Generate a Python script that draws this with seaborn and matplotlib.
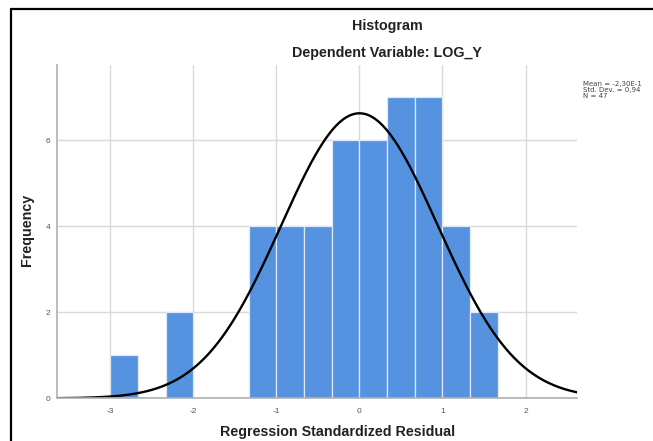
import numpy as np
import pandas as pd
import matplotlib
matplotlib.use("Agg")
import matplotlib.pyplot as plt
from matplotlib.lines import Line2D
import seaborn as sns

# histogram of regression standardized residuals (bins of width 1/3 starting at -3)
bin_start = -3.0
bin_width = 1 / 3
counts = [1, 0, 2, 0, 0, 4, 4, 4, 6, 6, 7, 7, 4, 2]
n_obs = 47
resid_mean = 0.0
resid_sd = 0.943
x_ticks = [-3, -2, -1, 0, 1, 2]
y_ticks = [0, 2, 4, 6]
stats_text = ["Mean = -2,30E-1", "Std. Dev. = 0,94", "N = 47"]

bin_edges = [bin_start + bin_width * i for i in range(len(counts) + 1)]
df = pd.DataFrame({
    'resid': [(bin_edges[i] + bin_edges[i + 1]) / 2 for i in range(len(counts))],
    'count': counts,
})

sns.set_style("white")
plt.rcParams['font.family'] = ['Liberation Sans', 'DejaVu Sans']
plt.rcParams['axes.unicode_minus'] = False

fig = plt.figure(figsize=(6.53, 4.41), dpi=100)
ax = fig.add_axes([0.0877, 0.0968, 0.7959, 0.7558])

ax.set_axisbelow(True)
ax.grid(True, color='#d9d9d9', linewidth=1.0)

sns.histplot(data=df, x='resid', weights='count', bins=bin_edges, ax=ax,
             color='#5592e0', alpha=1, edgecolor='#dfe8f4', linewidth=0.9)

# fitted normal curve
xs = np.linspace(-3.64, 2.62, 400)
pdf = np.exp(-0.5 * ((xs - resid_mean) / resid_sd) ** 2) / (resid_sd * np.sqrt(2 * np.pi))
sns.lineplot(x=xs, y=n_obs * bin_width * pdf, ax=ax, color='black', linewidth=1.7)

ax.set_xlim(-3.64, 2.62)
ax.set_ylim(0, 7.75)
ax.set_xticks(x_ticks)
ax.set_yticks(y_ticks)
ax.tick_params(axis='both', length=0, labelsize=6, labelcolor='#555555', pad=5)
ax.tick_params(axis='x', pad=7)
ax.set_xlabel('')
ax.set_ylabel('')
for side in ['top', 'right']:
    ax.spines[side].set_visible(False)
for side in ['left', 'bottom']:
    ax.spines[side].set_color('#b0b0b0')
    ax.spines[side].set_linewidth(1.2)

fig.text(0.5926, 0.9417, 'Histogram', ha='center', va='center',
         fontsize=10.3, fontweight='bold', color='#222222')
fig.text(0.5926, 0.8805, 'Dependent Variable: LOG_Y', ha='center', va='center',
         fontsize=10.3, fontweight='bold', color='#222222')
fig.text(0.5176, 0.0204, 'Regression Standardized Residual', ha='center', va='center',
         fontsize=10.3, fontweight='bold', color='#222222')
fig.text(0.0421, 0.4785, 'Frequency', ha='center', va='center', rotation=90,
         fontsize=10.3, fontweight='bold', color='#222222')
fig.text(0.8928, 0.816, '\n'.join(stats_text), ha='left', va='top',
         fontsize=5.0, linespacing=0.95, color='#444444', family='DejaVu Sans')

# chart frame
fig.add_artist(Line2D([0.0168, 0.0168], [0, 0.9796], color='black', linewidth=1.6))
fig.add_artist(Line2D([0.0168, 1.0], [0.9796, 0.9796], color='black', linewidth=1.6))

fig.savefig('out.png', dpi=100)
